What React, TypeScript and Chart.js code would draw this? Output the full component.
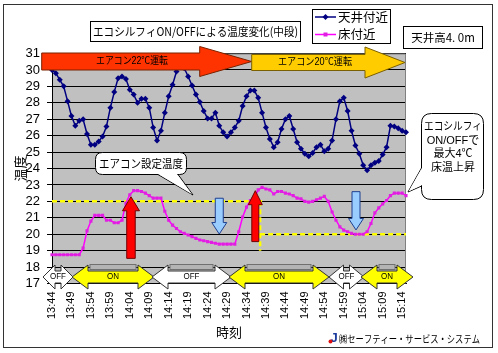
import { useEffect, useRef } from 'react';
import { Chart, registerables } from 'chart.js';

Chart.register(...registerables);

const timeLabels = [
  '13:44', '13:45', '13:46', '13:47', '13:48', '13:49', '13:50', '13:51', '13:52', '13:53',
  '13:54', '13:55', '13:56', '13:57', '13:58', '13:59', '14:00', '14:01', '14:02', '14:03',
  '14:04', '14:05', '14:06', '14:07', '14:08', '14:09', '14:10', '14:11', '14:12', '14:13',
  '14:14', '14:15', '14:16', '14:17', '14:18', '14:19', '14:20', '14:21', '14:22', '14:23',
  '14:24', '14:25', '14:26', '14:27', '14:28', '14:29', '14:30', '14:31', '14:32', '14:33',
  '14:34', '14:35', '14:36', '14:37', '14:38', '14:39', '14:40', '14:41', '14:42', '14:43',
  '14:44', '14:45', '14:46', '14:47', '14:48', '14:49', '14:50', '14:51', '14:52', '14:53',
  '14:54', '14:55', '14:56', '14:57', '14:58', '14:59', '15:00', '15:01', '15:02', '15:03',
  '15:04', '15:05', '15:06', '15:07', '15:08', '15:09', '15:10', '15:11', '15:12', '15:13',
  '15:14', '15:15',
];

// 天井付近
const ceilingTemps = [
  30.0, 29.8, 29.4, 29.0, 28.1, 27.2, 26.6, 26.9, 27.0, 26.1,
  25.45, 25.45, 25.65, 25.95, 26.55, 27.7, 28.65, 29.5, 29.6, 29.45,
  28.8, 28.5, 28.0, 28.25, 28.25, 27.7, 26.5, 25.7, 26.3, 27.4,
  28.4, 29.1, 29.9, 30.3, 30.1, 29.6, 29.05, 28.5, 28.05, 27.5,
  27.05, 27.05, 27.4, 26.6, 26.2, 25.95, 26.2, 26.5, 26.9, 27.8,
  28.4, 28.75, 28.75, 28.3, 27.4, 26.5, 25.8, 25.3, 25.6, 26.4,
  27.0, 27.2, 26.4, 25.6, 25.2, 24.9, 24.75, 24.95, 25.3, 25.45,
  25.05, 25.2, 25.7, 27.0, 28.1, 28.3, 27.5, 26.3, 25.4, 24.9,
  24.2, 23.9, 24.2, 24.35, 24.45, 24.85, 25.3, 26.6, 26.55, 26.45,
  26.3, 26.2,
];

// 床付近
const floorTemps = [
  18.75, 18.75, 18.75, 18.75, 18.75, 18.75, 18.75, 18.75, 19.15, 20.2,
  20.8, 21.15, 21.15, 21.15, 20.85, 20.85, 20.7, 20.7, 20.85, 21.9,
  22.4, 22.65, 22.65, 22.6, 22.5, 22.35, 22.2, 22.2, 22.2, 21.4,
  20.85, 20.55, 20.35, 20.15, 20.05, 19.95, 19.85, 19.75, 19.65, 19.6,
  19.55, 19.5, 19.45, 19.4, 19.4, 19.4, 19.4, 19.4, 20.15, 21.05,
  21.65, 22.05, 22.2, 22.7, 22.85, 22.75, 22.7, 22.45, 22.6, 22.6,
  22.5, 22.45, 22.35, 22.2, 22.15, 22.0, 21.95, 22.0, 22.1, 22.2,
  22.3, 22.0, 21.35, 20.85, 20.45, 20.25, 20.15, 20.05, 20.0, 20.0,
  20.0, 20.15, 20.65, 21.3, 21.6, 21.85, 22.05, 22.35, 22.5, 22.5,
  22.5, 22.35,
];

const Y_MIN = 17;
const Y_MAX = 31;
const LABEL_STEP = 5;

// エアコン設定温度 (22℃ → 20℃)
const setpointFirst = 22;
const setpointSecond = 20;
const setpointChangeIndex = 53.5;
const setpointDropTo = 19;

// ON/OFF 効果の矢印 (category index, from value, to value)
const upArrows = [
  { x: 20.3, from: 18.53, to: 22.28 },
  { x: 52.26, from: 19.55, to: 22.65 },
];
const downArrows = [
  { x: 43.0, from: 22.19, to: 20.01 },
  { x: 78.15, from: 22.59, to: 20.26 },
];

const CJK = '"Noto Sans CJK JP", sans-serif';
const MIX = '"Liberation Sans", "Noto Sans CJK JP", sans-serif';

function hArrow(ctx: CanvasRenderingContext2D, x1: number, x2: number, yc: number, bodyH: number, headH: number, headL: number, fill: string, stroke: string) {
  ctx.beginPath();
  ctx.moveTo(x1, yc - bodyH / 2);
  ctx.lineTo(x2 - headL, yc - bodyH / 2);
  ctx.lineTo(x2 - headL, yc - headH / 2);
  ctx.lineTo(x2, yc);
  ctx.lineTo(x2 - headL, yc + headH / 2);
  ctx.lineTo(x2 - headL, yc + bodyH / 2);
  ctx.lineTo(x1, yc + bodyH / 2);
  ctx.closePath();
  ctx.fillStyle = fill;
  ctx.fill();
  ctx.strokeStyle = stroke;
  ctx.lineWidth = 1;
  ctx.stroke();
}

function dArrow(ctx: CanvasRenderingContext2D, x1: number, x2: number, yc: number, bodyH: number, headH: number, headL: number, fill: string) {
  ctx.beginPath();
  ctx.moveTo(x1, yc);
  ctx.lineTo(x1 + headL, yc - headH / 2);
  ctx.lineTo(x1 + headL, yc - bodyH / 2);
  ctx.lineTo(x2 - headL, yc - bodyH / 2);
  ctx.lineTo(x2 - headL, yc - headH / 2);
  ctx.lineTo(x2, yc);
  ctx.lineTo(x2 - headL, yc + headH / 2);
  ctx.lineTo(x2 - headL, yc + bodyH / 2);
  ctx.lineTo(x1 + headL, yc + bodyH / 2);
  ctx.lineTo(x1 + headL, yc + headH / 2);
  ctx.closePath();
  ctx.fillStyle = fill;
  ctx.fill();
  ctx.strokeStyle = '#333';
  ctx.lineWidth = 1;
  ctx.stroke();
}

function vArrow(ctx: CanvasRenderingContext2D, xc: number, yTail: number, yTip: number, shaftW: number, headW: number, headL: number, fill: string, stroke: string) {
  const dir = Math.sign(yTip - yTail);
  const yb = yTip - dir * headL;
  ctx.beginPath();
  ctx.moveTo(xc - shaftW / 2, yTail);
  ctx.lineTo(xc - shaftW / 2, yb);
  ctx.lineTo(xc - headW / 2, yb);
  ctx.lineTo(xc, yTip);
  ctx.lineTo(xc + headW / 2, yb);
  ctx.lineTo(xc + shaftW / 2, yb);
  ctx.lineTo(xc + shaftW / 2, yTail);
  ctx.closePath();
  ctx.fillStyle = fill;
  ctx.fill();
  ctx.strokeStyle = stroke;
  ctx.lineWidth = 1;
  ctx.stroke();
}

function roundRectPath(ctx: CanvasRenderingContext2D, x: number, y: number, w: number, h: number, r: number) {
  ctx.beginPath();
  ctx.moveTo(x + r, y);
  ctx.lineTo(x + w - r, y);
  ctx.quadraticCurveTo(x + w, y, x + w, y + r);
  ctx.lineTo(x + w, y + h - r);
  ctx.quadraticCurveTo(x + w, y + h, x + w - r, y + h);
  ctx.lineTo(x + r, y + h);
  ctx.quadraticCurveTo(x, y + h, x, y + h - r);
  ctx.lineTo(x, y + r);
  ctx.quadraticCurveTo(x, y, x + r, y);
  ctx.closePath();
}

function callout(ctx: CanvasRenderingContext2D, x: number, y: number, w: number, h: number, r: number, b1: [number, number], b2: [number, number], tip: [number, number]) {
  roundRectPath(ctx, x, y, w, h, r);
  ctx.fillStyle = '#fff';
  ctx.fill();
  ctx.strokeStyle = '#000';
  ctx.lineWidth = 1;
  ctx.stroke();
  ctx.beginPath();
  ctx.moveTo(b1[0], b1[1]);
  ctx.lineTo(tip[0], tip[1]);
  ctx.lineTo(b2[0], b2[1]);
  ctx.stroke();
  const cx = (b1[0] + b2[0]) / 2;
  const cy = (b1[1] + b2[1]) / 2;
  const ix = cx + (cx - tip[0]) * 0.08;
  const iy = cy + (cy - tip[1]) * 0.08;
  ctx.beginPath();
  ctx.moveTo(b1[0] + (ix - cx), b1[1] + (iy - cy));
  ctx.lineTo(tip[0] - (tip[0] - cx) * 0.04, tip[1] - (tip[1] - cy) * 0.04);
  ctx.lineTo(b2[0] + (ix - cx), b2[1] + (iy - cy));
  ctx.closePath();
  ctx.fillStyle = '#fff';
  ctx.fill();
}

function txt(ctx: CanvasRenderingContext2D, s: string, x: number, y: number, font: string, align: CanvasTextAlign = 'center', maxW?: number, color = '#000') {
  ctx.font = font;
  ctx.fillStyle = color;
  ctx.textAlign = align;
  ctx.textBaseline = 'middle';
  if (maxW !== undefined && ctx.measureText(s).width > maxW) ctx.fillText(s, x, y, maxW);
  else ctx.fillText(s, x, y);
}

const overlay = {
  id: 'overlay',
  beforeDraw(chart: any) {
    const { ctx, chartArea: a } = chart;
    ctx.save();
    ctx.fillStyle = '#ffffff';
    ctx.fillRect(0, 0, chart.width, chart.height);
    ctx.fillStyle = '#c0c0c0';
    ctx.fillRect(a.left, a.top, a.right - a.left, a.bottom - a.top);
    ctx.restore();
  },
  beforeDatasetsDraw(chart: any) {
    const { ctx, chartArea: a } = chart;
    const x = chart.scales.x;
    const y = chart.scales.y;
    ctx.save();
    ctx.strokeStyle = '#808080';
    ctx.lineWidth = 1;
    ctx.beginPath();
    ctx.moveTo(a.left, a.top + 0.5);
    ctx.lineTo(a.right - 0.5, a.top + 0.5);
    ctx.lineTo(a.right - 0.5, a.bottom);
    ctx.stroke();
    ctx.strokeStyle = '#ffff00';
    ctx.lineWidth = 2.5;
    ctx.setLineDash([5, 3]);
    const xc = x.getPixelForValue(setpointChangeIndex);
    ctx.beginPath();
    ctx.moveTo(x.getPixelForValue(0), y.getPixelForValue(setpointFirst));
    ctx.lineTo(xc + 2, y.getPixelForValue(setpointFirst));
    ctx.moveTo(xc, y.getPixelForValue(setpointFirst));
    ctx.lineTo(xc, y.getPixelForValue(setpointDropTo));
    ctx.moveTo(xc, y.getPixelForValue(setpointSecond));
    ctx.lineTo(x.getPixelForValue(timeLabels.length - 1), y.getPixelForValue(setpointSecond));
    ctx.stroke();
    ctx.restore();
  },
  afterDatasetsDraw(chart: any) {
    const { ctx } = chart;
    const x = chart.scales.x;
    const y = chart.scales.y;
    ctx.save();

    hArrow(ctx, 41.7, 251.7, 61.5, 17, 30, 52, '#ff3300', '#7a2200');
    txt(ctx, 'エアコン22℃運転', 132, 61.5, `10px ${MIX}`, 'center', 72);
    hArrow(ctx, 251.7, 405, 62.5, 16, 31, 40, '#ffcc00', '#7a6000');
    txt(ctx, 'エアコン20℃運転', 315, 62.5, `10px ${MIX}`, 'center', 74);

    upArrows.forEach((u, i) => {
      const w = i === 0 ? 8.5 : 7;
      vArrow(ctx, x.getPixelForValue(u.x), y.getPixelForValue(u.from), y.getPixelForValue(u.to), w, w * 2, 14, '#ff0000', '#700000');
    });
    downArrows.forEach((d) => {
      vArrow(ctx, x.getPixelForValue(d.x), y.getPixelForValue(d.from), y.getPixelForValue(d.to), 8, 15, 11.5, '#99ccff', '#1f3f8f');
    });

    callout(ctx, 95.5, 152.5, 91, 22, 7, [158, 174.5], [178, 174.5], [193, 195]);
    txt(ctx, 'エアコン設定温度', 141, 163.5, `11.5px ${CJK}`, 'center', 84);
    callout(ctx, 421.5, 113.5, 62, 86, 10, [421.5, 168], [421.5, 186], [408, 192]);
    txt(ctx, 'エコシルフィ', 453, 127, `11px ${MIX}`, 'center', 58);
    txt(ctx, 'ON/OFFで', 453, 140.5, `11px ${MIX}`, 'center', 56);
    txt(ctx, '最大4℃', 453, 154, `11px ${MIX}`, 'center', 44);
    txt(ctx, '床温上昇', 453, 168, `11px ${MIX}`, 'center', 46);

    const segs: [number, number, string][] = [
      [43, 73, 'OFF'], [72, 154, 'ON'], [152, 231, 'OFF'], [229, 329, 'ON'], [329, 364, 'OFF'], [361, 413, 'ON'],
    ];
    segs.forEach(([x1, x2, t]) => {
      const hl = Math.min(16, (x2 - x1) / 2 - 3);
      ctx.fillStyle = '#b4b4b4';
      ctx.strokeStyle = '#707070';
      ctx.lineWidth = 1;
      if (x2 - x1 > 40) {
        ctx.fillRect(x1 + hl + 2, 264.5, x2 - x1 - 2 * hl - 4, 5);
        ctx.strokeRect(x1 + hl + 2, 264.5, x2 - x1 - 2 * hl - 4, 5);
      }
      dArrow(ctx, x1, x2, 277, 12, 24, hl, t === 'ON' ? '#ffff00' : '#ffffff');
      txt(ctx, t, (x1 + x2) / 2, 277, `9px "Liberation Sans", sans-serif`, 'center', t === 'ON' ? 12 : 16);
    });

    ctx.restore();
  },
  afterDraw(chart: any) {
    const { ctx } = chart;
    ctx.save();
    ctx.fillStyle = '#fff';
    ctx.fillRect(90.5, 21.5, 210, 20);
    ctx.strokeStyle = '#000';
    ctx.lineWidth = 1;
    ctx.strokeRect(90.5, 21.5, 210, 20);
    txt(ctx, 'エコシルフィON/OFFによる温度変化(中段)', 195.5, 31.5, `11.5px ${CJK}`, 'center', 205);

    ctx.fillStyle = '#fff';
    ctx.fillRect(312.5, 9.5, 78, 34);
    ctx.strokeRect(312.5, 9.5, 78, 34);
    ctx.strokeStyle = '#000080';
    ctx.lineWidth = 1.5;
    ctx.beginPath();
    ctx.moveTo(315, 17);
    ctx.lineTo(336, 17);
    ctx.stroke();
    ctx.fillStyle = '#000080';
    ctx.beginPath();
    ctx.moveTo(325.5, 14);
    ctx.lineTo(328.5, 17);
    ctx.lineTo(325.5, 20);
    ctx.lineTo(322.5, 17);
    ctx.closePath();
    ctx.fill();
    txt(ctx, '天井付近', 338, 17, `12.5px ${CJK}`, 'left');
    ctx.strokeStyle = '#ff00ff';
    ctx.beginPath();
    ctx.moveTo(315, 34.5);
    ctx.lineTo(336, 34.5);
    ctx.stroke();
    ctx.fillStyle = '#e020e0';
    ctx.fillRect(323.5, 32.5, 4, 4);
    txt(ctx, '床付近', 338, 34.5, `12.5px ${CJK}`, 'left');

    ctx.fillStyle = '#fff';
    ctx.fillRect(403.5, 26.5, 79, 22);
    ctx.strokeStyle = '#000';
    ctx.lineWidth = 1;
    ctx.strokeRect(403.5, 26.5, 79, 22);
    txt(ctx, '天井高4. 0m', 443, 37.5, `11.5px ${CJK}`, 'center', 66);

    ctx.fillStyle = '#1c3c9c';
    ctx.font = `bold 13px "Liberation Sans", sans-serif`;
    ctx.textAlign = 'center';
    ctx.textBaseline = 'middle';
    ctx.fillText('J', 334, 338.5);
    ctx.fillStyle = '#e01010';
    ctx.beginPath();
    ctx.arc(330.5, 341.5, 2, 0, Math.PI * 2);
    ctx.fill();
    txt(ctx, '㈱セーフティー・サービス・システム', 339, 339, `10.5px ${CJK}`, 'left', 141);

    ctx.strokeStyle = '#333';
    ctx.lineWidth = 1;
    ctx.strokeRect(3.5, 4.5, 489, 343);
    ctx.restore();
  },
};

export default function App() {
  const ref = useRef<HTMLCanvasElement>(null);

  useEffect(() => {
    const chart = new Chart(ref.current as HTMLCanvasElement, {
      type: 'line',
      data: {
        labels: timeLabels,
        datasets: [
          {
            label: '天井付近',
            data: ceilingTemps,
            borderColor: '#000080',
            backgroundColor: '#000080',
            borderWidth: 1.5,
            pointStyle: 'rectRot',
            pointRadius: 3,
            pointBorderWidth: 0,
            tension: 0,
          },
          {
            label: '床付近',
            data: floorTemps,
            borderColor: '#ff00ff',
            backgroundColor: '#e020e0',
            borderWidth: 1.5,
            pointStyle: 'rect',
            pointRadius: 2.2,
            pointBorderWidth: 0,
            tension: 0,
          },
        ],
      },
      options: {
        responsive: false,
        animation: false,
        events: [],
        layout: { padding: { left: 0, top: 53.5, right: 92, bottom: 0 } },
        plugins: { legend: { display: false }, tooltip: { enabled: false } },
        scales: {
          x: {
            type: 'category',
            offset: false,
            grid: { display: false, drawTicks: false },
            border: { display: true, color: '#000', width: 1 },
            ticks: {
              autoSkip: false,
              maxRotation: 90,
              minRotation: 90,
              padding: 8,
              color: '#000',
              font: { size: 11, family: '"Liberation Sans", sans-serif' },
              callback: (_v: any, i: number) => (i % LABEL_STEP === 0 ? timeLabels[i] : ''),
            },
            title: {
              display: true,
              text: '時刻',
              color: '#000',
              font: { size: 13, family: CJK },
              padding: { top: 0, bottom: 13 },
            },
            afterFit: (s: any) => {
              s.height = 69.5;
            },
          },
          y: {
            min: Y_MIN,
            max: Y_MAX,
            ticks: {
              stepSize: 1,
              autoSkip: false,
              padding: 7,
              color: '#000',
              font: { size: 13, family: '"Liberation Sans", sans-serif' },
            },
            grid: { color: '#000', lineWidth: 1, drawTicks: true, tickLength: 5, tickColor: '#000' },
            border: { color: '#000', width: 1 },
            title: {
              display: true,
              text: '温度',
              color: '#000',
              font: { size: 13, family: CJK },
              padding: { top: 12, bottom: 0 },
            },
            afterFit: (s: any) => {
              s.width = 52;
            },
          },
        },
      } as any,
      plugins: [overlay],
    });
    return () => chart.destroy();
  }, []);

  return (
    <div style={{ position: 'fixed', left: 0, top: 0, width: 498, height: 353, background: '#fff' }}>
      <canvas ref={ref} width={498} height={353} style={{ display: 'block', width: 498, height: 353 }} />
    </div>
  );
}
